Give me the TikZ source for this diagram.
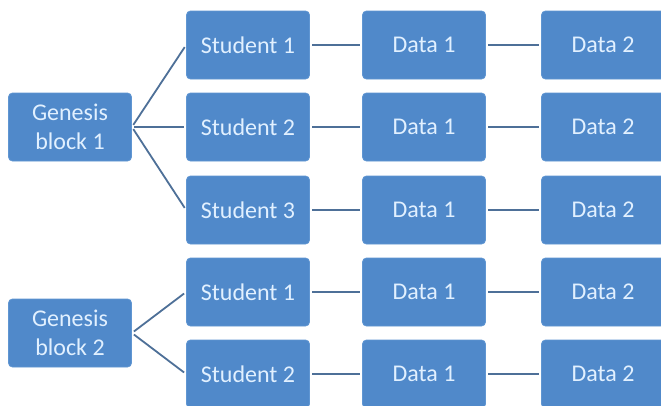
\documentclass[tikz,border=0pt]{standalone}
\usepackage{fontspec}
\setmainfont{Carlito}
\definecolor{boxfill}{RGB}{80,137,202}
\definecolor{boxedge}{RGB}{96,150,210}
\definecolor{boxtext}{RGB}{225,240,255}
\definecolor{linkcol}{RGB}{78,112,152}
\tikzset{
  blk/.style={rectangle, rounded corners=4pt, fill=boxfill, draw=boxedge, line width=0.8pt,
    minimum width=123pt, minimum height=68pt, inner sep=0pt, text=boxtext,
    font=\fontsize{24}{28.5}\selectfont, align=center},
  link/.style={draw=linkcol, line width=1.8pt, shorten >=2.5pt, shorten <=2.5pt}
}
\begin{document}
\begin{tikzpicture}[x=1pt,y=-1pt]
\useasboundingbox (0,0) rectangle (661,405);
\fill[white] (0,0) rectangle (661,405);
% genesis blocks
\node[blk] (g1) at (70,127) {Genesis\\block 1};
\node[blk] (g2) at (70,333) {Genesis\\block 2};
% students
\node[blk] (s11) at (248,45) {Student 1};
\node[blk] (s12) at (248,127) {Student 2};
\node[blk] (s13) at (248,210) {Student 3};
\node[blk] (s21) at (248,292) {Student 1};
\node[blk] (s22) at (248,374) {Student 2};
% data 1
\node[blk] (a11) at (424,45) {Data 1};
\node[blk] (a12) at (424,127) {Data 1};
\node[blk] (a13) at (424,210) {Data 1};
\node[blk] (a21) at (424,292) {Data 1};
\node[blk] (a22) at (424,374) {Data 1};
% data 2
\node[blk] (b11) at (603,45) {Data 2};
\node[blk] (b12) at (603,127) {Data 2};
\node[blk] (b13) at (603,210) {Data 2};
\node[blk] (b21) at (603,292) {Data 2};
\node[blk] (b22) at (603,374) {Data 2};
% links
\draw[link] (g1.east) -- (s11.west);
\draw[link] (g1.east) -- (s12.west);
\draw[link] (g1.east) -- (s13.west);
\draw[link] (g2.east) -- (s21.west);
\draw[link] (g2.east) -- (s22.west);
\foreach \r in {11,12,13,21,22}{
  \draw[link] (s\r.east) -- (a\r.west);
  \draw[link] (a\r.east) -- (b\r.west);
}
\end{tikzpicture}
\end{document}
